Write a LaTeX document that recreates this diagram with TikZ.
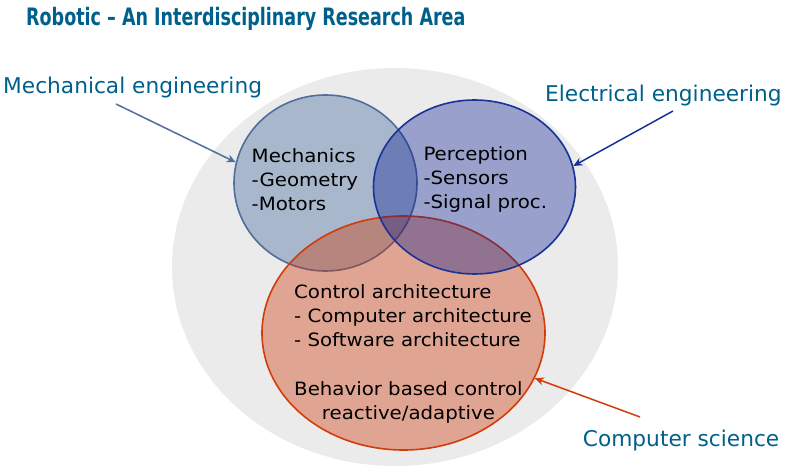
\documentclass[tikz,border=0pt]{standalone}
\usepackage{fontspec}
\setmainfont{DejaVu Sans}
\newfontfamily\titlefont[FakeStretch=0.73]{DejaVu Sans}
\newfontfamily\bodyfont[FakeStretch=1.08]{DejaVu Sans}
\usepackage{xcolor}
\usepackage{tikz}
\usetikzlibrary{shapes.geometric, arrows.meta, positioning}

\definecolor{headblue}{RGB}{0,96,140}
\definecolor{bggray}{RGB}{235,235,235}
\definecolor{mechfill}{RGB}{15,65,132}
\definecolor{mechline}{RGB}{79,110,155}
\definecolor{percfill}{RGB}{0,21,144}
\definecolor{percline}{RGB}{25,50,150}
\definecolor{ctrlfill}{RGB}{207,52,2}
\definecolor{ctrlline}{RGB}{210,60,10}

\tikzset{
  blob/.style = {
    ellipse, line width=1.6pt, inner sep=0pt
  },
  areatag/.style = {
    font=\fontsize{21.7}{26}\selectfont, text=headblue,
    inner sep=0pt, anchor=base west
  },
  bodytext/.style = {
    font=\bodyfont\fontsize{18.3}{24}\selectfont, text=black,
    inner sep=0pt, anchor=north west
  },
  pointer/.style = {-{Stealth[length=9pt,width=8pt]}, line width=1.5pt}
}

\begin{document}
\begin{tikzpicture}[x=1pt, y=-1pt]
\useasboundingbox (0,0) rectangle (788,473);

%% Title
\node[anchor=base west, inner sep=0pt, text=headblue,
      font=\titlefont\bfseries\fontsize{24}{28}\selectfont] (title)
      at (26,26) {Robotic – An Interdisciplinary Research Area};

%% Areas
\node[ellipse, fill=bggray, minimum width=446pt,
      minimum height=398pt] (field) at (395,267) {};
\node[blob, draw=mechline, fill=mechfill, fill opacity=0.3,
      minimum width=183pt, minimum height=176pt] (mech) at (325.5,183) {};
\node[blob, draw=ctrlline, fill=ctrlfill, fill opacity=0.38,
      minimum width=283pt, minimum height=234pt] (ctrl) at (403.5,333) {};
\node[blob, draw=percline, fill=percfill, fill opacity=0.35,
      minimum width=202pt, minimum height=174pt] (perc) at (474.5,187) {};

%% Area texts
\node[bodytext, align=left]   (mechtxt)  at (251.5,148.8)
      {Mechanics\\-Geometry\\-Motors};
\node[bodytext, align=left]   (perctxt)  at (423.3,146.1)
      {Perception\\-Sensors\\-Signal proc.};
\node[bodytext, align=left]   (ctrltxt)  at (294,284.4)
      {Control architecture\\- Computer architecture\\- Software architecture};
\node[bodytext, align=center] (behavtxt) at (294,381.1)
      {Behavior based control\\reactive/adaptive};

%% Disciplines
\node[areatag] (mecheng) at (3,94)      {Mechanical engineering};
\node[areatag] (eleceng) at (545,101.3) {Electrical engineering};
\node[areatag] (compsci) at (582.7,446) {Computer science};

\coordinate (mechtail) at (116,104);
\coordinate (electail) at (673,111);
\coordinate (comptail) at (640,417);

%% Pointers
\draw[pointer, mechline] (mechtail) -- (mech.167.8);
\draw[pointer, percline] (electail) -- (perc.12.3);
\draw[pointer, ctrlline] (comptail) -- (ctrl.-19.1);

\end{tikzpicture}
\end{document}
